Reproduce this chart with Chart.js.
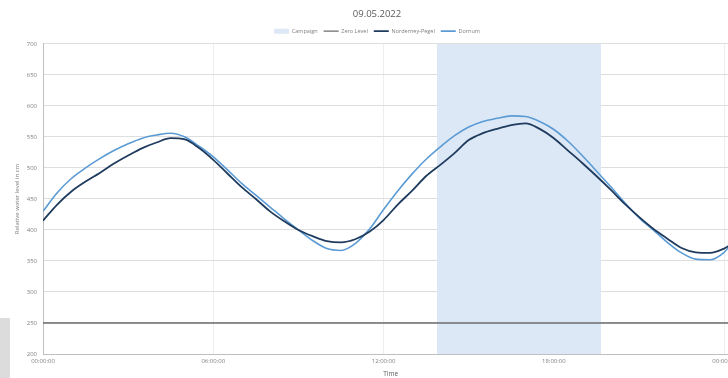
<!DOCTYPE html>
<html>
<head>
<meta charset="utf-8">
<script src="https://cdn.jsdelivr.net/npm/chart.js@4/dist/chart.umd.min.js"></script>
<style>
  html, body { margin: 0; padding: 0; background: #fff; overflow: hidden; }
  #frame { position: relative; width: 728px; height: 378px; overflow: hidden; }
  #wrap { position: absolute; left: 0; top: 0; width: 740px; height: 378px; }
  #side { position: absolute; left: 0; top: 318px; width: 10px; height: 60px; background: #dcdcdc; }
</style>
</head>
<body>
<div id="frame">
  <div id="wrap"><canvas id="c"></canvas></div>
  <div id="side"></div>
</div>
<script>
// Sample times in hours after midnight
const hours = [0,0.5,1,1.5,2,2.5,3,3.5,4,4.5,5,5.5,6,6.5,7,7.5,8,8.5,9,9.5,10,10.5,11,11.5,
  12,12.5,13,13.5,14,14.5,15,15.5,16,16.5,17,17.5,18,18.5,19,19.5,20,20.5,21,21.5,22,22.5,23,23.5,24,24.3];

// Relative water level (cm)
const norderneyPegel = [415,441,462,478,492,507,520,532,541,548,546,532,513,491,469,450,430,414,400,390,382,380,385,397,
  416,441,463,487,505,524,545,556,563,569,572,563,548,528,508,487,465,442,421,402,386,371,364,363,370,378];
const dornum = [430,460,483,500,515,528,539,548,553,556,550,535,518,497,475,456,437,418,400,383,370,367,378,401,
  433,463,490,514,534,552,566,575,580,584,583,575,562,543,520,495,470,444,420,400,380,363,353,352,364,380];

const zeroLevel = 250;
const campaign = ['13:53', '19:40'];
const xTicks = [0, 6, 12, 18, 24];
const yTicks = [200, 250, 300, 350, 400, 450, 500, 550, 600, 650, 700];
const xRange = [0, 24.5];

const toHours = s => { const [h, m] = s.split(':').map(Number); return h + m / 60; };
const fmt = v => { const h = Math.round(v) % 24; return String(h).padStart(2, '0') + ':00:00'; };

const FONT = "'Open Sans', 'Liberation Sans', sans-serif";
const GREY = '#7f7f7f';

new Chart(document.getElementById('c'), {
  type: 'line',
  data: {
    datasets: [
      {
        label: 'Campaign',
        data: campaign.map(t => ({ x: toHours(t), y: yTicks[yTicks.length - 1] })),
        borderWidth: 0,
        pointRadius: 0,
        fill: 'start',
        backgroundColor: '#dce8f5',
        borderColor: 'rgba(0,0,0,0)',
        order: 4
      },
      {
        label: 'Zero Level',
        data: xRange.map(x => ({ x, y: zeroLevel })),
        borderColor: '#6b6b6b',
        borderWidth: 1.3,
        pointRadius: 0,
        order: 3
      },
      {
        label: 'Norderney-Pegel',
        data: hours.map((h, i) => ({ x: h, y: norderneyPegel[i] })),
        borderColor: '#1f3b5e',
        borderWidth: 1.8,
        pointRadius: 0,
        cubicInterpolationMode: 'monotone',
        order: 1
      },
      {
        label: 'Dornum',
        data: hours.map((h, i) => ({ x: h, y: dornum[i] })),
        borderColor: '#5b9bd5',
        borderWidth: 1.6,
        pointRadius: 0,
        cubicInterpolationMode: 'monotone',
        order: 2
      }
    ]
  },
  options: {
    responsive: true,
    maintainAspectRatio: false,
    animation: false,
    events: [],
    layout: { padding: { left: 14, top: 0, bottom: 0, right: 0 } },
    plugins: {
      title: {
        display: true,
        text: '09.05.2022',
        color: '#595959',
        font: { family: FONT, size: 9.5, weight: 'normal' },
        padding: { top: 9, bottom: 2 }
      },
      legend: {
        display: true,
        labels: {
          font: { family: FONT, size: 5.5 },
          color: GREY,
          usePointStyle: true,
          pointStyleWidth: 15,
          boxHeight: 5,
          padding: 6,
          generateLabels(chart) {
            return chart.data.datasets.map((ds, i) => {
              const band = ds.fill === 'start';
              return {
                text: ds.label,
                datasetIndex: i,
                pointStyle: band ? 'rect' : 'line',
                fillStyle: band ? ds.backgroundColor : ds.borderColor,
                strokeStyle: band ? 'rgba(0,0,0,0)' : ds.borderColor,
                lineWidth: band ? 0 : ds.borderWidth,
                fontColor: GREY,
                hidden: false
              };
            });
          }
        }
      },
      tooltip: { enabled: false }
    },
    scales: {
      x: {
        type: 'linear',
        min: xRange[0],
        max: xRange[1],
        afterBuildTicks: s => { s.ticks = xTicks.map(v => ({ value: v })); },
        ticks: {
          callback: v => fmt(v),
          color: GREY,
          font: { family: FONT, size: 6 },
          maxRotation: 0,
          padding: 4,
          autoSkip: false
        },
        grid: { color: '#eeeeee', drawTicks: false },
        border: { color: '#bfbfbf' },
        title: {
          display: true,
          text: 'Time',
          color: '#595959',
          font: { family: FONT, size: 6.5 },
          padding: { top: 1, bottom: 0 }
        }
      },
      y: {
        min: yTicks[0],
        max: yTicks[yTicks.length - 1],
        afterBuildTicks: s => { s.ticks = yTicks.map(v => ({ value: v })); },
        afterFit: s => { s.width = 29; },
        ticks: {
          color: GREY,
          font: { family: FONT, size: 6 },
          padding: 6
        },
        grid: { color: '#dedede', drawTicks: false },
        border: { color: '#bfbfbf' },
        title: {
          display: true,
          text: 'Relative water level in cm',
          color: GREY,
          font: { family: FONT, size: 6 },
          padding: 0
        }
      }
    }
  }
});
</script>
</body>
</html>
